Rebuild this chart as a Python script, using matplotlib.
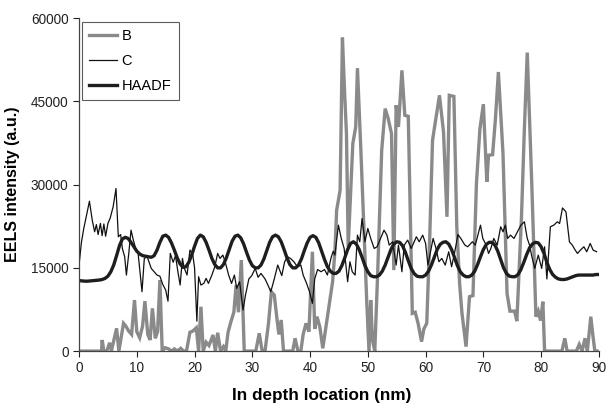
import matplotlib
matplotlib.use("Agg")
import matplotlib.pyplot as plt

plt.rcParams['font.family'] = ['Liberation Sans', 'DejaVu Sans']

# ---------------- data ----------------
haadf_x = [i * 0.5 for i in range(181)]
haadf_y = [
    12700, 12650, 12600, 12600, 12650, 12700, 12750, 12800, 12900, 13100,
    13500, 14300, 15500, 17200, 19000, 20200, 20500, 20300, 19600, 18800,
    18000, 17500, 17200, 17100, 17000, 16900, 17200, 18200, 19600, 20700,
    20900, 20500, 19500, 18200, 16800, 15700, 15100, 15200, 16000, 17300,
    18900, 20300, 20900, 20600, 19600, 18200, 16700, 15600, 15000, 15000,
    15600, 16800, 18300, 19800, 20700, 20900, 20400, 19300, 17800, 16400,
    15400, 15000, 15000, 15500, 16600, 18100, 19600, 20600, 20900, 20600,
    19700, 18300, 16800, 15600, 15000, 15000, 15500, 16600, 18100, 19500,
    20500, 20800, 20500, 19500, 18000, 16500, 15200, 14400, 14000, 14000,
    14400, 15400, 16800, 18300, 19400, 19700, 19300, 18300, 16900, 15400,
    14300, 13600, 13400, 13400, 13700, 14400, 15500, 16900, 18300, 19300,
    19700, 19600, 19000, 17800, 16300, 14900, 14000, 13500, 13400, 13400,
    13700, 14400, 15500, 16900, 18300, 19200, 19600, 19700, 19300, 18300,
    16900, 15400, 14300, 13700, 13400, 13400, 13700, 14400, 15600, 17000,
    18300, 19200, 19600, 19600, 19100, 18000, 16500, 15000, 14000, 13500,
    13400, 13400, 13800, 14700, 16000, 17400, 18600, 19300, 19600, 19500,
    18800, 17600, 16000, 14700, 13800, 13300, 13000, 12900, 12900, 13000,
    13200, 13400, 13600, 13700, 13700, 13700, 13700, 13700, 13700, 13800,
    13800,
]

b_x = [
    0, 0.5, 1, 1.5, 2, 2.5, 3, 3.5, 3.9, 4.0, 4.3, 4.8, 5.3, 5.6, 6.0, 6.5,
    6.9, 7.3, 7.7, 8.1, 8.6, 9.1, 9.6, 10.0, 10.5, 11.0, 11.4, 11.9, 12.3,
    12.7, 13.2, 13.6, 14.0, 14.4, 14.9, 15.5, 16.0, 16.5, 17.0, 17.6, 18.1,
    18.6, 19.2, 19.7, 20.3, 20.7, 21.1, 21.5, 22.0, 22.5, 23.2, 23.6, 24.0,
    24.5, 25.0, 25.4, 25.8, 26.3, 26.8, 27.2, 27.6, 28.1, 28.6, 29.1, 29.6,
    30.1, 30.6, 31.2, 31.7, 32.2, 32.8, 33.3, 33.8, 34.3, 34.6, 35.0, 35.4,
    36.0, 36.5, 37.0, 37.4, 37.9, 38.4, 38.8, 39.3, 39.8, 40.4, 40.8, 41.2,
    41.7, 42.2, 42.7, 43.3, 43.9, 44.3, 44.6, 45.2, 45.6, 46.0, 46.3, 46.6,
    47.0, 47.4, 47.9, 48.2, 48.8, 49.4, 49.8, 50.2, 50.5, 50.8, 51.2, 51.7,
    52.4, 53.0, 53.5, 54.1, 54.5, 54.9, 55.3, 55.9, 56.4, 57.0, 57.7, 58.2,
    58.7, 59.3, 59.7, 60.2, 60.7, 61.2, 61.8, 62.4, 63.1, 63.7, 64.1, 64.9,
    65.4, 65.9, 66.3, 67.0, 67.6, 68.2, 68.8, 69.4, 70.0, 70.6, 70.9, 71.6,
    72.1, 72.6, 73.4, 74.1, 74.6, 75.4, 75.8, 76.6, 77.1, 77.6, 78.4, 79.1,
    79.5, 79.9, 80.3, 80.6, 81.2, 81.8, 82.4, 83.0, 83.6, 84.1, 84.5, 85.0,
    85.5, 86.1, 86.6, 87.1, 87.6, 88.0, 88.6, 89.0, 89.3, 89.7,
]
b_y = [
    0, 0, 0, 0, 0, 0, 0, 0, 0, 2000, 0, 0, 1500, 0, 1800, 4100,
    0, 2500, 5000, 4500, 3600, 3000, 9200, 3500, 2400, 4500, 9000, 3000, 2000,
    7700, 2300, 3500, 12800, 0, 600, 400, 0, 400, 0, 500, 0,
    0, 3400, 3600, 4200, 0, 8000, 0, 1600, 1000, 2900, 0, 3300,
    0, 800, 0, 3400, 5300, 7000, 11900, 7000, 16400, 0, 0, 0,
    0, 0, 3200, 0, 0, 5000, 10700, 10100, 5500, 3000, 5600, 0,
    0, 0, 0, 2300, 0, 0, 3000, 5000, 3500, 17900, 4000, 6200,
    4300, 500, 4000, 8300, 12500, 18000, 25400, 29000, 56500, 46000, 39200, 18800,
    28000, 37400, 40400, 51000, 36000, 20000, 9200, 0, 9200, 2000, 0, 14000,
    36200, 43700, 42000, 39200, 14600, 44300, 40400, 50600, 42500, 42300, 6800, 7000,
    5000, 1700, 4000, 5000, 20000, 38000, 42000, 46100, 39500, 24200, 46100, 45900,
    22400, 12000, 6800, 800, 9800, 10000, 30200, 40000, 44500, 30500, 35300, 35400,
    42000, 50300, 35600, 10400, 7200, 7200, 5400, 24200, 40000, 53800, 29600, 6200,
    7200, 5500, 8900, 0, 0, 0, 0, 0, 0, 2300, 0, 0,
    0, 0, 1200, 0, 2300, 0, 6200, 2500, 0, 0,
]

c_x = [
    0.0, 0.4, 0.8, 1.2, 1.8, 2.3, 2.7, 3.0, 3.3, 3.7, 4.0, 4.3, 4.6, 5.0, 5.4,
    5.9, 6.4, 6.8, 7.2, 7.5, 7.9, 8.2, 8.6, 9.0, 9.4, 9.8, 10.2, 10.9, 11.3,
    11.8, 12.5, 13.0, 13.5, 14.0, 14.5, 15.0, 15.4, 15.8, 16.3, 16.7, 17.1,
    17.5, 17.9, 18.2, 18.7, 19.2, 19.7, 20.0, 20.4, 20.7, 21.1, 21.6, 22.0,
    22.4, 23.0, 23.5, 24.0, 24.4, 24.9, 25.3, 25.9, 26.4, 26.9, 27.3, 27.8,
    28.4, 28.8, 29.4, 29.9, 30.5, 31.0, 31.5, 32.2, 32.7, 33.2, 33.8, 34.4,
    35.1, 35.6, 36.1, 36.6, 37.2, 37.8, 38.4, 38.8, 39.4, 39.9, 40.4, 40.8,
    41.3, 41.9, 42.5, 43.0, 43.6, 44.0, 44.3, 44.9, 45.4, 45.9, 46.5, 46.9,
    47.3, 47.8, 48.2, 48.6, 49.0, 49.5, 50.0, 50.5, 51.1, 51.6, 52.2, 52.8,
    53.3, 53.7, 54.3, 54.9, 55.3, 55.9, 56.3, 56.9, 57.5, 57.9, 58.4, 58.9,
    59.5, 60.0, 60.4, 60.8, 61.3, 61.8, 62.3, 62.8, 63.4, 64.0, 64.5, 65.0,
    65.6, 66.1, 66.8, 67.3, 68.1, 68.6, 69.5, 69.9, 70.5, 70.9, 71.3, 71.8,
    72.4, 73.0, 73.4, 73.8, 74.2, 74.7, 75.3, 75.9, 76.5, 77.1, 77.6, 78.0,
    78.4, 78.9, 79.5, 80.1, 80.6, 81.0, 81.6, 82.2, 82.8, 83.2, 83.7, 84.3,
    84.9, 85.4, 85.9, 86.3, 86.8, 87.4, 87.9, 88.5, 89.0, 89.6,
]
c_y = [
    15500, 19500, 22000, 24000, 27000, 23500, 21500, 22800, 21000, 23000, 20800, 22900, 20700, 23000, 24000,
    26000, 29300, 20600, 21000, 18500, 17000, 13700, 17500, 21800, 20000, 18500, 17900, 10700, 16700,
    17000, 14900, 14300, 13700, 13500, 12000, 11000, 9000, 17600, 16000, 17200, 14400,
    11900, 16700, 15000, 13700, 18200, 17300, 15000, 5400, 13400, 11900, 12200, 13100,
    12200, 13700, 15200, 17600, 16700, 17300, 16100, 13700, 12200, 13700, 11300, 12500,
    7400, 10000, 13000, 13600, 14900, 13300, 14000, 13000, 11900, 10700, 13000, 15500,
    13600, 16100, 17000, 16700, 16100, 15200, 15500, 13700, 12200, 10700, 8600, 13000,
    14700, 14300, 14700, 13700, 16700, 18000, 17300, 22700, 20300, 18500, 12500, 16100,
    14300, 13700, 20900, 19700, 23900, 19700, 22100, 20300, 18500, 18800, 20300, 21800,
    20900, 19100, 19700, 15500, 19100, 14300, 19100, 20000, 18500, 19400, 20600, 19700,
    20900, 19400, 15500, 17600, 20300, 18500, 16100, 16700, 15500, 17900, 15200, 17600,
    21000, 20300, 19100, 18800, 19700, 19100, 22700, 20300, 19100, 17600, 18500, 20300,
    19100, 22400, 21500, 22700, 20300, 20900, 20300, 21500, 22700, 23300, 20300, 19100,
    17000, 14900, 17300, 14900, 18800, 13000, 22400, 22700, 23300, 23000, 25800, 25100,
    19700, 19100, 18200, 17600, 18200, 18800, 17900, 19400, 18200, 17900,
]

x_ticks = [0, 10, 20, 30, 40, 50, 60, 70, 80, 90]
y_ticks = [0, 15000, 30000, 45000, 60000]

# ---------------- plot ----------------
fig = plt.figure(figsize=(6.08, 4.04), dpi=100)
ax = fig.add_axes([0.130, 0.131, 0.855, 0.824])

ax.plot(b_x, b_y, color='#8a8a8a', lw=2.4, label='B', solid_joinstyle='miter')
ax.plot(c_x, c_y, color='#111111', lw=0.9, label='C')
ax.plot(haadf_x, haadf_y, color='#1e1e1e', lw=2.4, label='HAADF')

ax.set_xlim(0, 90)
ax.set_ylim(0, 60000)
ax.set_xticks(x_ticks)
ax.set_yticks(y_ticks)
ax.set_xticklabels([str(v) for v in x_ticks])
ax.set_yticklabels([str(v) for v in y_ticks])
ax.tick_params(direction='out', length=4, width=0.8, labelsize=9.8, colors='#222222')
for s in ['top', 'right']:
    ax.spines[s].set_visible(False)
for s in ['left', 'bottom']:
    ax.spines[s].set_color('#444444')
    ax.spines[s].set_linewidth(0.9)

ax.set_xlabel('In depth location (nm)', fontsize=12.3, fontweight='bold', labelpad=11)
ax.xaxis.set_label_coords(0.467, -0.112)
ax.set_ylabel('EELS intensity (a.u.)', fontsize=11.5, fontweight='bold', labelpad=8)

leg = ax.legend(loc='upper left', bbox_to_anchor=(0.006, 0.99), fontsize=10.5,
                frameon=True, fancybox=False, edgecolor='#333333',
                handlelength=1.9, handletextpad=0.3, borderpad=0.5,
                labelspacing=0.75, borderaxespad=0)
leg.get_frame().set_linewidth(0.8)

fig.savefig('out.png', dpi=100)
